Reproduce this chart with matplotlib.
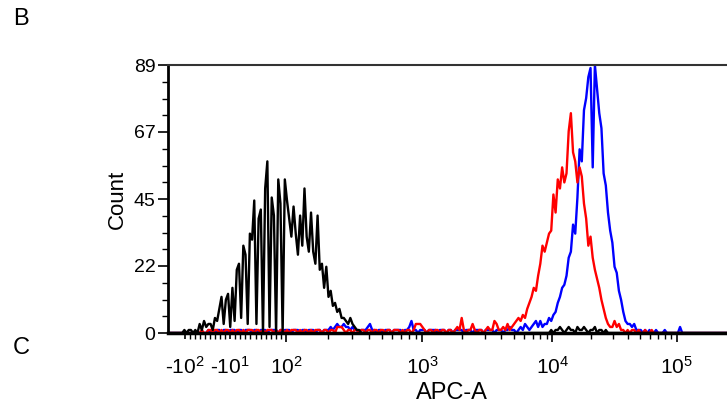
import matplotlib.pyplot as plt
import numpy as np

plt.rcParams['font.family'] = ['Liberation Sans', 'DejaVu Sans']
plt.rcParams['mathtext.fontset'] = 'custom'
plt.rcParams['mathtext.rm'] = 'Liberation Sans'
plt.rcParams['mathtext.it'] = 'Liberation Sans:italic'

# APC-A histogram, 256 channels over the displayed range
x_min, x_max = -133, 262144
n_channels = 256

black_counts = ([0, 0, 0, 0, 0, 0]
                + [0, 1, 0, 1, 1, 0, 1, 0, 3, 1, 4, 2, 3, 3, 1, 5, 4, 8]
                + [12, 3, 11, 13, 2, 15, 4, 21, 23, 5, 29, 26, 3, 33, 31, 44,
                   3, 38, 41, 0, 48, 57, 2, 45, 39, 0, 51, 43, 0, 51, 44]
                + [38, 32, 42, 33, 26, 39, 29, 48, 32, 27, 40, 27, 23, 39, 21, 23,
                   15, 22, 12, 14, 9, 10, 7, 8, 5, 5, 4, 3, 5, 3, 2, 1, 1]
                + [0] * 86
                + [0, 1, 0, 1, 1, 2, 1, 0, 1, 2, 1, 1, 0, 2, 1, 1, 2, 1, 0, 1,
                   1, 2, 0, 1, 1, 0, 1, 0]
                + [0] * 54)

red_counts = ([0] * 14
              + [0, 1, 0, 0, 1, 1, 0, 1, 1, 0, 1, 0, 1, 1, 0, 1,
                 0, 1, 1, 0, 1, 0, 1, 1, 1, 0, 1, 1, 0, 1, 0, 1,
                 1, 1, 0, 1, 0, 1, 1, 0, 1, 0, 1, 1, 1, 0, 1, 0,
                 1, 1, 0, 1, 0, 1, 1, 1, 0, 1, 1, 0, 1, 1, 0, 2,
                 2, 2, 1, 0, 1, 1, 0, 1, 1, 0, 1, 1, 0, 1, 1, 0,
                 1, 1, 0, 1, 1, 0, 1, 1, 0, 1, 1, 1, 0, 1, 0, 1,
                 1, 0, 1, 3, 3, 3, 2, 1, 0, 1, 1, 0, 1, 1, 0, 1,
                 1, 0, 1, 1, 0, 1, 2, 1, 5, 1, 0, 1, 1, 3, 1, 0,
                 1, 1, 0, 1, 2, 1, 1, 4]
              + [3, 1, 1, 2, 1, 3, 1, 2, 3, 4, 5, 4, 6, 5, 8, 10, 12, 15, 14, 19,
                 23, 29, 27, 30, 33, 34, 46, 40, 51, 48, 55, 50, 53, 67, 73, 60,
                 57, 50, 55, 52, 43, 38, 29, 32, 25, 21, 18, 15, 11, 8, 5, 3, 2,
                 2, 4, 2, 3, 1, 1]
              + [0, 1, 0, 1, 1, 0, 1, 0, 0, 1, 0, 0, 1, 0]
              + [0] * 33)

blue_counts = ([0] * 16
               + [0, 0, 1, 0, 1, 0, 1, 1, 0, 1, 1, 0, 1, 1, 1, 0,
                  1, 1, 0, 1, 1, 1, 0, 1, 1, 0, 1, 1, 1, 0, 1, 1,
                  1, 1, 0, 1, 0, 1, 1, 1, 0, 1, 1, 1, 0, 1, 1, 0,
                  1, 1, 1, 0, 1, 1, 0, 1, 1, 1, 2, 1, 2, 3, 2, 2,
                  3, 2, 2, 1, 2, 1, 1, 0, 1, 1, 1, 2, 3, 1, 1, 0,
                  1, 1, 0, 1, 1, 1, 0, 1, 1, 1, 1, 0, 1, 1, 2, 4,
                  1, 1, 0, 1, 1, 1, 0, 1, 1, 1, 1, 0, 1, 1, 1, 0,
                  1, 1, 0, 1, 1, 1, 1, 0, 1, 1, 1, 0, 1, 1, 1, 1,
                  0, 1, 1, 1, 1, 0, 1, 1, 1, 0, 1, 1, 2, 1, 1, 0]
               + [1, 2, 1, 3, 2, 1, 2, 3, 4, 2, 4, 2, 3, 3, 5, 4, 6, 7, 10, 12,
                  15, 16, 19, 25, 27, 36, 33, 45, 61, 57, 74, 78, 85, 88, 55, 89,
                  81, 73, 68, 53, 49, 40, 34, 30, 22, 20, 14, 11, 7, 4, 3, 3, 2,
                  3, 1, 1, 1, 0, 1]
               + [0, 1, 0, 0, 1, 0, 0, 0, 1, 0, 0, 0, 0, 0, 0, 2, 0]
               + [0] * 20)

xtick_vals = [-100, -10, 100, 1000, 10000, 100000]
xtick_labels = ['-$10^{2}$', '-$10^{1}$', '$10^{2}$', '$10^{3}$', '$10^{4}$', '$10^{5}$']
ytick_vals = [0, 22.25, 44.5, 66.75, 89]
ytick_labels = ['0', '22', '45', '67', '89']


# biexponential-like axis: linear up to 100, then log with slightly shrinking decades
def fwd(x):
    x = np.asarray(x, dtype=float)
    u = np.log10(np.maximum(x, 100) / 100)
    return np.where(x <= 100, 0.507 * x, 50.7 + 139.5 * u - 3.0 * u ** 2)


def inv(f):
    f = np.asarray(f, dtype=float)
    d = np.maximum(f - 50.7, 0)
    u = (139.5 - np.sqrt(np.maximum(139.5 ** 2 - 12.0 * d, 0))) / 6.0
    return np.where(f <= 50.7, f / 0.507, 100 * 10 ** u)


edges = np.linspace(fwd(x_min), fwd(x_max), n_channels + 1)
x_chan = inv((edges[:-1] + edges[1:]) / 2)

fig = plt.figure(figsize=(7.27, 4.09), dpi=100)
ax = fig.add_axes([168 / 727, 76 / 409, 559 / 727, 268 / 409])
ax.set_xscale('function', functions=(fwd, inv))

ax.plot(x_chan, blue_counts, color='#0000ff', lw=1.7)
ax.plot(x_chan, red_counts, color='#ff0000', lw=1.7)
ax.plot(x_chan, black_counts, color='black', lw=1.7)

ax.set_xlim(x_min, x_max)
ax.set_ylim(0, 89)

ax.set_xticks(xtick_vals)
ax.set_xticklabels(xtick_labels)
minor_x = ([v for v in range(-100, 100, 10)] + [k * 100 for k in range(2, 10)]
           + [k * 1000 for k in range(2, 10)] + [k * 10000 for k in range(2, 10)])
ax.set_xticks(minor_x, minor=True)
ax.set_yticks(ytick_vals)
ax.set_yticklabels(ytick_labels)
ax.set_yticks(np.arange(0, 89.01, 89 / 16), minor=True)

ax.tick_params(axis='x', which='major', length=6.5, width=1.2, labelsize=15, pad=10)
ax.tick_params(axis='x', which='minor', length=4.3, width=1.0)
ax.tick_params(axis='y', which='major', length=7, width=1.2, labelsize=14, pad=2)
ax.tick_params(axis='y', which='minor', length=4, width=1.0)
for t in ax.xaxis.get_major_ticks()[:2]:
    t.tick1line.set_markersize(4.3)

ax.spines['left'].set_linewidth(2)
ax.spines['bottom'].set_linewidth(2.5)
ax.spines['top'].set_linewidth(1.5)
ax.spines['top'].set_color('#333333')
ax.spines['right'].set_visible(False)

ax.set_xlabel('APC-A', fontsize=17)
ax.xaxis.set_label_coords((452 - 168) / 559, -(382 - 333) / 268)
ax.set_ylabel('Count', fontsize=16)
ax.yaxis.set_label_coords(-(168 - 128) / 559, 0.5)

fig.text(13 / 727, 1 - 8 / 409, 'B', fontsize=17, ha='left', va='top')
fig.text(13 / 727, 1 - 337 / 409, 'C', fontsize=17, ha='left', va='top')

fig.savefig('out.png', dpi=100)
